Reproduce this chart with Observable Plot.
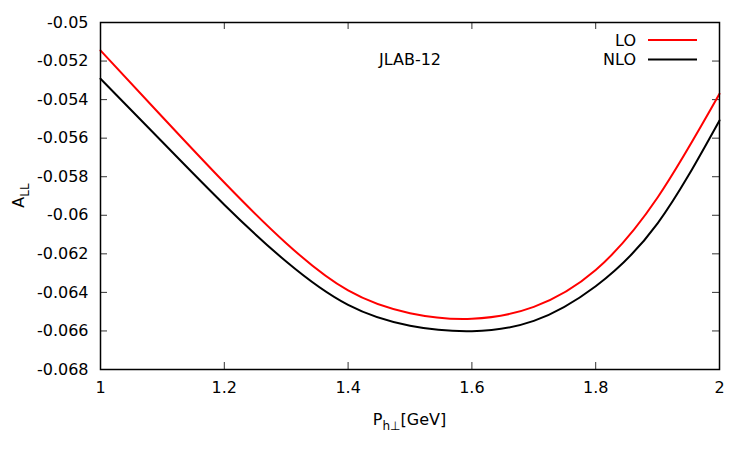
<!DOCTYPE html>
<html>
<head>
<meta charset="utf-8">
<script src="https://cdn.jsdelivr.net/npm/d3@7"></script>
<script src="https://cdn.jsdelivr.net/npm/@observablehq/plot@0.6"></script>
<style>
  body { margin: 0; background: #fff; }
  svg { font-family: "DejaVu Sans", sans-serif; }
</style>
</head>
<body>
<div id="chart"></div>
<script>
// Transverse momentum of the hadron (GeV)
const pT = [1.0, 1.1, 1.2, 1.3, 1.4, 1.5, 1.6, 1.7, 1.8, 1.9, 2.0];
// Double longitudinal spin asymmetry A_LL, leading order
const loValues = [-0.05145, -0.05490, -0.05830, -0.06145, -0.06390, -0.06508, -0.06537, -0.06475, -0.06284, -0.05908, -0.05370];
// Next-to-leading order
const nloValues = [-0.05292, -0.05620, -0.05945, -0.06240, -0.06465, -0.06573, -0.06601, -0.06548, -0.06368, -0.06042, -0.05508];

const xTicks = [1, 1.2, 1.4, 1.6, 1.8, 2];
const xTickLabels = ["1", "1.2", "1.4", "1.6", "1.8", "2"];
const yTicks = [-0.068, -0.066, -0.064, -0.062, -0.06, -0.058, -0.056, -0.054, -0.052, -0.05];
const yTickLabels = ["-0.068", "-0.066", "-0.064", "-0.062", "-0.06", "-0.058", "-0.056", "-0.054", "-0.052", "-0.05"];

const series = [
  {name: "LO", color: "#ff0000", values: loValues},
  {name: "NLO", color: "#000000", values: nloValues}
];
const rows = series.flatMap(s => s.values.map((v, i) => ({x: pT[i], y: v, name: s.name})));

const W = 750, H = 450;
const margin = {top: 22, right: 31, bottom: 81, left: 100};
const plotW = W - margin.left - margin.right;
const plotH = H - margin.top - margin.bottom;
const tick = 7;

const chart = Plot.plot({
  width: W,
  height: H,
  marginTop: margin.top,
  marginRight: margin.right,
  marginBottom: margin.bottom,
  marginLeft: margin.left,
  style: {fontFamily: "DejaVu Sans, sans-serif", fontSize: "16px", background: "#fff"},
  x: {domain: [1, 2]},
  y: {domain: [-0.068, -0.05]},
  color: {domain: series.map(s => s.name), range: series.map(s => s.color)},
  marks: [
    // inward ticks on all four sides
    Plot.tickY(yTicks, {y: d => d, stroke: "#333", strokeWidth: 1, insetRight: plotW - tick}),
    Plot.tickY(yTicks, {y: d => d, stroke: "#333", strokeWidth: 1, insetLeft: plotW - tick}),
    Plot.tickX(xTicks, {x: d => d, stroke: "#333", strokeWidth: 1, insetTop: plotH - tick}),
    Plot.tickX(xTicks, {x: d => d, stroke: "#333", strokeWidth: 1, insetBottom: plotH - tick}),
    Plot.axisY({ticks: yTicks, tickSize: 0, tickPadding: 12, tickFormat: (d, i) => yTickLabels[i], label: null, fill: "#000", fontSize: 16}),
    Plot.axisX({ticks: xTicks, tickSize: 0, tickPadding: 12, tickFormat: (d, i) => xTickLabels[i], label: null, fill: "#000", fontSize: 16}),
    Plot.line(rows, {x: "x", y: "y", z: "name", stroke: "name", strokeWidth: 2, curve: "natural"}),
    Plot.frame({stroke: "#000", strokeWidth: 1.5}),
    Plot.text(["JLAB-12"], {frameAnchor: "top", dx: 0, dy: 31, text: d => d, fontSize: 16, fill: "#000"})
  ]
});

document.getElementById("chart").appendChild(chart);

// Axis titles with subscripts, and the series key
const svg = d3.select(chart);

const yTitle = svg.append("text")
  .attr("transform", `translate(24,${margin.top + plotH / 2}) rotate(-90)`)
  .attr("text-anchor", "middle")
  .attr("font-size", 16)
  .attr("fill", "#000");
yTitle.append("tspan").text("A");
yTitle.append("tspan").attr("font-size", 12).attr("dy", 5).text("LL");

const xTitle = svg.append("text")
  .attr("x", margin.left + plotW / 2)
  .attr("y", 425)
  .attr("text-anchor", "middle")
  .attr("font-size", 16)
  .attr("fill", "#000");
xTitle.append("tspan").text("P");
xTitle.append("tspan").attr("font-size", 12).attr("dy", 5).text("h\u22A5");
xTitle.append("tspan").attr("dy", -5).text("[GeV]");

const key = svg.append("g");
series.forEach((s, i) => {
  const yy = 40 + i * 19.5;
  key.append("text")
    .attr("x", 636).attr("y", yy).attr("dy", "0.35em")
    .attr("text-anchor", "end").attr("font-size", 16).attr("fill", "#000")
    .text(s.name);
  key.append("line")
    .attr("x1", 648).attr("x2", 697).attr("y1", yy).attr("y2", yy)
    .attr("stroke", s.color).attr("stroke-width", 2);
});
</script>
</body>
</html>
